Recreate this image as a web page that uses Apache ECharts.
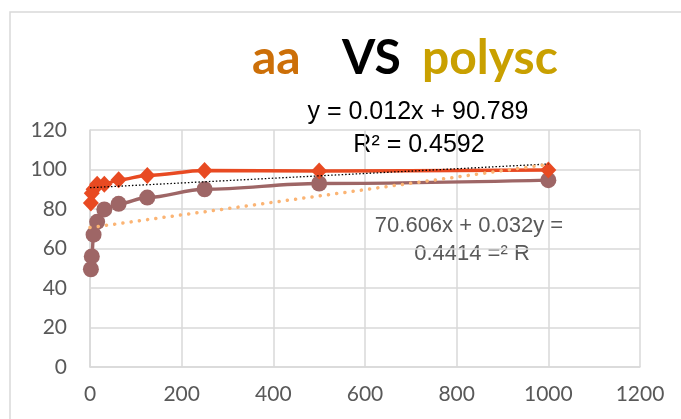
<!DOCTYPE html>
<html>
<head>
<meta charset="utf-8">
<script src="https://cdn.jsdelivr.net/npm/echarts@6/dist/echarts.min.js"></script>
<style>
html,body{margin:0;padding:0;background:#fff;}
#chart{width:681px;height:419px;}
</style>
</head>
<body>
<div id="chart"></div>
<script>
// ---- data ----
var xValues = [1.95, 3.9, 7.8, 15.6, 31.25, 62.5, 125, 250, 500, 1000];
var aaValues = [83, 88, 90, 92.5, 92.5, 94.8, 97, 99.5, 99.3, 99.7];
var polyscValues = [49.5, 56, 67, 73.5, 79.8, 82.6, 85.8, 90, 92.9, 94.6];
var aaTrendX = [0, 1000];
var aaTrendY = [90.789, 102.789];
var polyTrendX = [0, 1000];
var polyTrendY = [70.606, 102.606];
var xTicks = [0, 200, 400, 600, 800, 1000, 1200];
var yTicks = [0, 20, 40, 60, 80, 100, 120];
var titleParts = ['aa', 'VS', 'polysc'];
var eqAa = ['y = 0.012x + 90.789', 'R² = 0.4592'];
var eqPoly = ['70.606x + 0.032y =', '0.4414 =² R'];

function pairs(xs, ys) { return xs.map(function (x, i) { return [x, ys[i]]; }); }

var chart = echarts.init(document.getElementById('chart'), null, {renderer: 'canvas'});
var labelFont = {color: '#595959', fontFamily: 'Lato', fontSize: 21, formatter: function (v) { return String(v); }};

chart.setOption({
  animation: false,
  backgroundColor: '#fff',
  grid: {left: 90, right: 41, top: 130, bottom: 52, containLabel: false},
  xAxis: {
    type: 'value', min: xTicks[0], max: xTicks[xTicks.length - 1], interval: 200,
    axisLine: {show: true, lineStyle: {color: '#D9D9D9', width: 1.5}},
    axisTick: {show: false},
    splitLine: {show: true, lineStyle: {color: '#D9D9D9', width: 1.5}},
    axisLabel: Object.assign({margin: 17}, labelFont)
  },
  yAxis: {
    type: 'value', min: yTicks[0], max: yTicks[yTicks.length - 1], interval: 20,
    axisLine: {show: true, lineStyle: {color: '#D9D9D9', width: 1.5}},
    axisTick: {show: false},
    splitLine: {show: true, lineStyle: {color: '#D9D9D9', width: 1.5}},
    axisLabel: Object.assign({margin: 23}, labelFont)
  },
  series: [
    {
      name: 'polysc', type: 'line', data: pairs(xValues, polyscValues),
      smooth: 0.35, smoothMonotone: 'x',
      symbol: 'circle', symbolSize: 16,
      lineStyle: {color: '#9E6666', width: 3.4},
      itemStyle: {color: '#9E6666'}, z: 2
    },
    {
      name: 'aa', type: 'line', data: pairs(xValues, aaValues),
      smooth: 0.35, smoothMonotone: 'x',
      symbol: 'diamond', symbolSize: [16, 17],
      lineStyle: {color: '#E84A22', width: 3.5},
      itemStyle: {color: '#E84A22'}, z: 3
    },
    {
      name: 'aaTrend', type: 'line', data: pairs(aaTrendX, aaTrendY),
      symbol: 'none', silent: true,
      lineStyle: {color: '#000', width: 1.3, type: [1.5, 2]}, z: 4
    },
    {
      name: 'polyTrend', type: 'line', data: pairs(polyTrendX, polyTrendY),
      symbol: 'none', silent: true,
      lineStyle: {color: '#FBB474', width: 3.5, type: [0.1, 8.2], cap: 'round'}, z: 4
    }
  ],
  graphic: [
    {type: 'rect', shape: {x: 10, y: 12, width: 700, height: 450}, style: {fill: 'none', stroke: '#D9D9D9', lineWidth: 1.5}, z: -10, silent: true},
    {type: 'text', left: 252, top: 35, style: {text: titleParts[0], fill: '#CC6F08', font: 'bold 48px Lato'}},
    {type: 'text', left: 342, top: 35, style: {text: titleParts[1], fill: '#000000', font: 'bold 48px Lato'}},
    {type: 'text', left: 422, top: 35, style: {text: titleParts[2], fill: '#C9A000', font: 'bold 48px Lato'}},
    {type: 'text', x: 418, y: 112, style: {text: eqAa[0], fill: '#000', font: '25px "Liberation Sans"', align: 'center', verticalAlign: 'middle'}},
    {type: 'text', x: 419, y: 145, style: {text: eqAa[1], fill: '#000', font: '25px "Liberation Sans"', align: 'center', verticalAlign: 'middle'}},
    {type: 'text', x: 469, y: 226, style: {text: eqPoly[0], fill: '#595959', font: '22px "Liberation Sans"', align: 'center', verticalAlign: 'middle'}},
    {type: 'text', x: 472, y: 254, style: {text: eqPoly[1], fill: '#595959', font: '22px "Liberation Sans"', align: 'center', verticalAlign: 'middle'}}
  ]
});
</script>
</body>
</html>
